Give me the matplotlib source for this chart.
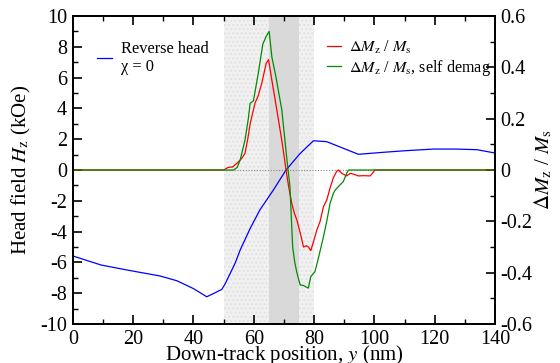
import matplotlib
matplotlib.use("Agg")
import matplotlib.pyplot as plt
from matplotlib.ticker import MultipleLocator

plt.rcParams['font.family'] = ['Liberation Serif', 'DejaVu Serif']
plt.rcParams['mathtext.fontset'] = 'stix'
plt.rcParams['axes.unicode_minus'] = False

# Head field (kOe), reverse head, chi = 0
head_x = [0, 9.4, 17.9, 28.9, 34.5, 40, 44.4, 47.2, 49.4, 50.5, 53.8, 55.5, 58.8, 62, 66.5,
          70.7, 75.4, 79.8, 84.2, 94.7, 103, 110, 119.6, 127, 134, 139.5, 140]
head_hz = [-5.58, -6.17, -6.49, -6.88, -7.19, -7.7, -8.23, -7.97, -7.75, -7.4, -6.06, -5.19, -3.8,
           -2.6, -1.3, 0, 1.08, 1.9, 1.84, 1.02, 1.15, 1.25, 1.36, 1.36, 1.32, 1.12, 1.1]

# Delta Mz / Ms
dm_x = [0, 50, 51.5, 53, 54.4, 56, 57.1, 58, 58.8, 60.4, 61.5, 62.7, 64.1, 64.9, 66, 67, 68.2,
        69.5, 70.7, 71.5, 72.6, 73.5, 74.3, 75.3, 76.5, 77.5, 78.1, 78.9, 79.8, 80.9, 82, 83.1,
        84.2, 85.3, 86.4, 87.5, 88.1, 89.2, 90.8, 92, 93, 94.7, 96.5, 98.6, 100.2, 140]
dm_y = [0, 0, 0.01, 0.012, 0.026, 0.045, 0.065, 0.12, 0.18, 0.26, 0.29, 0.34, 0.415, 0.43, 0.35,
        0.28, 0.195, 0.1, 0, -0.06, -0.13, -0.17, -0.195, -0.24, -0.3, -0.295, -0.30, -0.314,
        -0.28, -0.234, -0.2, -0.143, -0.117, -0.07, -0.03, -0.005, 0.0, -0.013, -0.023, -0.013,
        -0.016, -0.023, -0.022, -0.023, 0, 0]

# Delta Mz / Ms, self demag
sd_x = [0, 53.3, 54.5, 55.5, 57.1, 58.2, 58.8, 59.9, 61.5, 63, 64.1, 65.1, 66, 67.4, 69.3, 71,
        72, 72.9, 73.6, 74.3, 75.4, 76.5, 77.6, 78.1, 78.9, 80.3, 81.5, 83.1, 84.2, 85.3, 86.4,
        87, 88.6, 89.7, 90.8, 91.4, 140]
sd_y = [0, 0, 0.01, 0.039, 0.117, 0.2, 0.26, 0.27, 0.377, 0.49, 0.52, 0.54, 0.44, 0.36, 0.234,
        0.04, -0.065, -0.30, -0.36, -0.40, -0.448, -0.45, -0.457, -0.46, -0.415, -0.396, -0.34,
        -0.26, -0.2, -0.13, -0.091, -0.078, -0.058, -0.045, -0.013, 0, 0]

light_band = (50, 80)
dark_band = (65, 75)

fig = plt.figure(figsize=(5.6, 3.63), dpi=100)
ax = fig.add_axes([0.13, 0.1074, 0.754, 0.8485])
ax2 = ax.twinx()

ax.axvspan(*light_band, facecolor='#f1f1f1', hatch='....', edgecolor='#e2e2e2', linewidth=0, zorder=0)
ax.axvspan(*dark_band, facecolor='#d9d9d9', linewidth=0, zorder=0.5)
ax.axhline(0, color='#888888', ls=(0, (1, 1.5)), lw=0.8, zorder=1)

lb, = ax.plot(head_x, head_hz, color='#0000ff', lw=0.9, zorder=3)
lr, = ax2.plot(dm_x, dm_y, color='#ff0000', lw=0.9)
lg, = ax2.plot(sd_x, sd_y, color='#008c00', lw=0.9)

ax.set_xlim(0, 140)
ax.set_ylim(-10, 10)
ax2.set_ylim(-0.6, 0.6)

ax.xaxis.set_major_locator(MultipleLocator(20))
ax.xaxis.set_minor_locator(MultipleLocator(10))
ax.yaxis.set_major_locator(MultipleLocator(2))
ax.yaxis.set_minor_locator(MultipleLocator(1))
ax2.yaxis.set_major_locator(MultipleLocator(0.2))
ax2.yaxis.set_minor_locator(MultipleLocator(0.1))
ax2.set_yticks([-0.6, -0.4, -0.2, 0, 0.2, 0.4, 0.6])
ax2.set_yticklabels(['-0.6', '-0.4', '-0.2', '0', '0.2', '0.4', '0.6'])

fs = 14.5
lfs = 15
ax.tick_params(axis='x', which='both', direction='in', top=True, bottom=True, labelsize=fs, pad=4)
ax.tick_params(axis='y', which='both', direction='in', left=True, right=False, labelsize=fs, pad=4)
ax2.tick_params(axis='y', which='both', direction='in', right=True, labelsize=fs, pad=3.5)
for a in (ax, ax2):
    a.tick_params(which='major', length=6.5, width=1.2)
    a.tick_params(which='minor', length=3.5, width=1.0)
    for s in a.spines.values():
        s.set_linewidth(1.3)

ax.set_xlabel('Down-track position, $y$ (nm)', fontsize=lfs)
ax.set_ylabel(r'Head field $H_\mathrm{z}$ (kOe)', fontsize=lfs)
ax2.set_ylabel(r'$\Delta M_\mathrm{z}$ / $M_\mathrm{s}$', fontsize=lfs)
ax.xaxis.set_label_coords(0.5, -0.062)
ax.yaxis.set_label_coords(-0.095, 0.5)
ax2.yaxis.set_label_coords(1.09, 0.5)

leg1 = ax.legend([lb], ['Reverse head\n\u03c7 = 0'], loc='upper left',
                 bbox_to_anchor=(0.057, 0.92), frameon=False, fontsize=11.8,
                 handlelength=0.9, handletextpad=0.55, borderpad=0, borderaxespad=0)
leg2 = ax2.legend([lr, lg], [r'$\Delta M_\mathrm{z}$ / $M_\mathrm{s}$',
                             r'$\Delta M_\mathrm{z}$ / $M_\mathrm{s}$, self demag'],
                  loc='upper left', bbox_to_anchor=(0.602, 0.925), frameon=False, fontsize=11.6,
                  handlelength=0.9, handletextpad=0.45, labelspacing=0.1,
                  borderpad=0, borderaxespad=0)

fig.savefig('out.png', dpi=100)
